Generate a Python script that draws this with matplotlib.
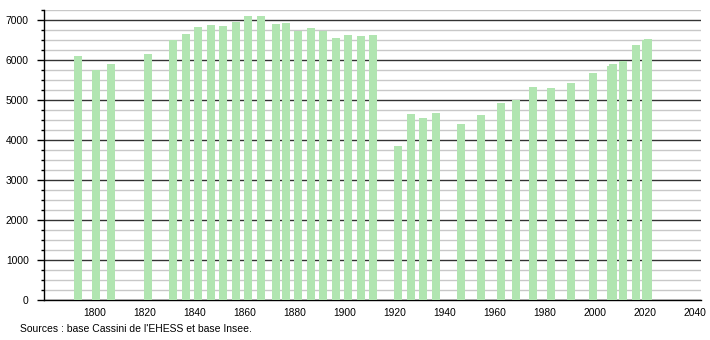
import matplotlib
matplotlib.use("Agg")
import matplotlib.pyplot as plt
from matplotlib.ticker import MultipleLocator

years = [1793, 1800, 1806, 1821, 1831, 1836, 1841, 1846, 1851, 1856,
         1861, 1866, 1872, 1876, 1881, 1886, 1891, 1896, 1901, 1906,
         1911, 1921, 1926, 1931, 1936, 1946, 1954, 1962, 1968, 1975,
         1982, 1990, 1999, 2006, 2007, 2011, 2016, 2020, 2021]
population = [6110, 5760, 5910, 6160, 6510, 6660, 6840, 6890, 6860, 6960,
              7110, 7110, 6910, 6940, 6730, 6810, 6730, 6560, 6640, 6610,
              6640, 3860, 4660, 4560, 4690, 4410, 4640, 4940, 5010, 5330,
              5310, 5440, 5690, 5860, 5900, 5990, 6390, 6500, 6520]
x_ticks = [1800, 1820, 1840, 1860, 1880, 1900, 1920, 1940, 1960, 1980, 2000, 2020, 2040]
y_ticks = [0, 1000, 2000, 3000, 4000, 5000, 6000, 7000]
source = "Sources : base Cassini de l'EHESS et base Insee."

plt.rcParams['font.family'] = ['Liberation Sans', 'DejaVu Sans']

fig = plt.figure(figsize=(7.1, 3.4), dpi=100)
ax = fig.add_axes([44/710, 1-300/340, (701-44)/710, (300-10.3)/340])

ax.bar([y + 0.3 for y in years], population, width=3.2, color='#b1e5b1', zorder=3, linewidth=0)

ax.set_xlim(1779.6, 2042.4)
ax.set_ylim(0, 7250)
ax.set_xticks(x_ticks)
ax.set_yticks(y_ticks)
ax.yaxis.set_minor_locator(MultipleLocator(250))

ax.grid(axis='y', which='major', color='#333333', linewidth=1.0, zorder=1)
ax.grid(axis='y', which='minor', color='#c8c8c8', linewidth=1.0, zorder=0)
ax.set_axisbelow(True)

for s in ['top', 'right']:
    ax.spines[s].set_visible(False)
ax.spines['left'].set_color('black')
ax.spines['bottom'].set_color('black')
ax.spines['left'].set_linewidth(1.0)
ax.spines['bottom'].set_linewidth(1.0)

ax.tick_params(axis='x', length=0, labelsize=7.4, pad=6, colors='black')
ax.tick_params(axis='y', which='major', length=5, width=1, labelsize=7.4, pad=6, colors='black')
ax.tick_params(axis='y', which='minor', length=2.5, width=1)

fig.text(20/710, 1-329/340, source, fontsize=7.45, va='center', ha='left')

fig.savefig("out.png", dpi=100)
